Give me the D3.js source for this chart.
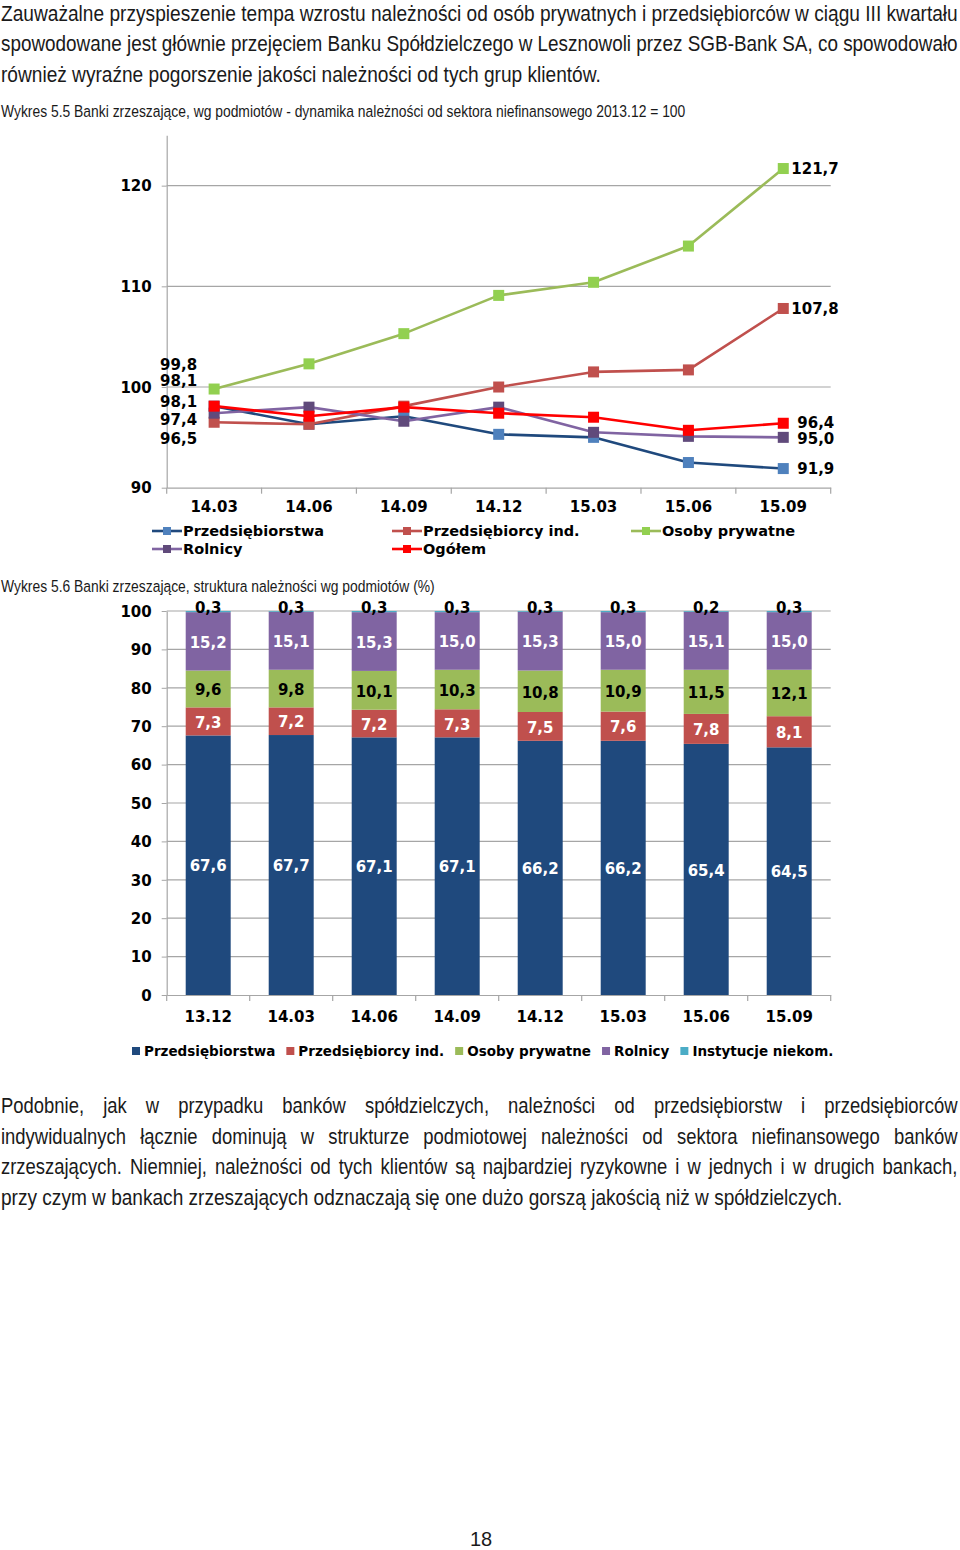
<!DOCTYPE html>
<html>
<head>
<meta charset="utf-8">
<script src="https://cdn.jsdelivr.net/npm/d3@7"></script>
<style>
  html, body { margin: 0; padding: 0; background: #fff; }
  svg { display: block; }
  .body-text { font-family: "Liberation Sans Narrow", "Arial Narrow", "Liberation Sans", Arial, sans-serif; fill: #1a1a1a; }
  .chart-text { font-family: "DejaVu Sans", Verdana, sans-serif; font-weight: bold; fill: #000; }
</style>
</head>
<body>
<svg id="page" width="960" height="1550"></svg>
<script>
// ---------------- DATA ----------------
const topParagraph = [
  "Zauważalne przyspieszenie tempa wzrostu należności od osób prywatnych i przedsiębiorców w ciągu III kwartału",
  "spowodowane jest głównie przejęciem Banku Spółdzielczego w Lesznowoli przez SGB-Bank SA, co spowodowało",
  "również wyraźne pogorszenie jakości należności od tych grup klientów."
];
const caption1 = "Wykres 5.5 Banki zrzeszające, wg podmiotów - dynamika należności od sektora niefinansowego 2013.12 = 100";
const caption2 = "Wykres 5.6 Banki zrzeszające, struktura należności wg podmiotów (%)";
const bottomParagraph = [
  "Podobnie, jak w przypadku banków spółdzielczych, należności od przedsiębiorstw i przedsiębiorców",
  "indywidualnych łącznie dominują w strukturze podmiotowej należności od sektora niefinansowego banków",
  "zrzeszających. Niemniej, należności od tych klientów są najbardziej ryzykowne i w jednych i w drugich bankach,",
  "przy czym w bankach zrzeszających odznaczają się one dużo gorszą jakością niż w spółdzielczych."
];
const pageNumber = "18";

// Chart 5.5 (lines)
const lineCategories = ["14.03", "14.06", "14.09", "14.12", "15.03", "15.06", "15.09"];
const lineTicks = [90, 100, 110, 120];
const przedsiebiorstwaIdx = [98.1, 96.3, 97.1, 95.3, 95.0, 92.5, 91.9];
const przedsiebiorcyIdx   = [96.5, 96.3, 98.1, 100.0, 101.5, 101.7, 107.8];
const osobyPrywatneIdx    = [99.8, 102.3, 105.3, 109.1, 110.4, 114.0, 121.7];
const rolnicyIdx          = [97.4, 98.0, 96.6, 98.0, 95.5, 95.1, 95.0];
const ogolemIdx           = [98.1, 97.1, 98.0, 97.4, 97.0, 95.7, 96.4];
const lineSeriesNames = ["Przedsiębiorstwa", "Przedsiębiorcy ind.", "Osoby prywatne", "Rolnicy", "Ogółem"];

// Chart 5.6 (stacked bars)
const barCategories = ["13.12", "14.03", "14.06", "14.09", "14.12", "15.03", "15.06", "15.09"];
const barTicks = [0, 10, 20, 30, 40, 50, 60, 70, 80, 90, 100];
const przedsiebiorstwaPct = [67.6, 67.7, 67.1, 67.1, 66.2, 66.2, 65.4, 64.5];
const przedsiebiorcyPct   = [7.3, 7.2, 7.2, 7.3, 7.5, 7.6, 7.8, 8.1];
const osobyPrywatnePct    = [9.6, 9.8, 10.1, 10.3, 10.8, 10.9, 11.5, 12.1];
const rolnicyPct          = [15.2, 15.1, 15.3, 15.0, 15.3, 15.0, 15.1, 15.0];
const instytucjePct       = [0.3, 0.3, 0.3, 0.3, 0.3, 0.3, 0.2, 0.3];
const barSeriesNames = ["Przedsiębiorstwa", "Przedsiębiorcy ind.", "Osoby prywatne", "Rolnicy", "Instytucje niekom."];

// ---------------- STYLES ----------------
const fmt = v => d3.format(".1f")(v).replace(".", ",");
const gridColor = "#a6a6a6";
const svg = d3.select("#page");

// ---------------- BODY TEXT ----------------
// Narrow look: horizontally condensed text; justified lines use word-spacing.
const condense = 0.82;
function textLine(str, x, y, size, width, justify) {
  const g = svg.append("g");
  const t = g.append("text").attr("class", "body-text")
    .attr("x", 0).attr("y", 0).style("font-size", size + "px").text(str);
  const w = t.node().getComputedTextLength();
  let sx = condense;
  if (justify) {
    const spaces = (str.match(/ /g) || []).length;
    const natural = w * condense;
    if (natural < width && spaces > 0) {
      t.style("word-spacing", ((width - natural) / condense / spaces) + "px");
    } else {
      sx = width / w;
    }
  } else {
    sx = width / w;
  }
  g.attr("transform", `translate(${x},${y}) scale(${sx},1)`);
  return t;
}
const topWidths = [957, 957, 600];
topParagraph.forEach((s, i) => textLine(s, 1, 20.5 + i * 30.6, 22, topWidths[i], false));
textLine(caption1, 1, 116.5, 16.5, 685, false);
textLine(caption2, 1, 592, 16.5, 434, false);
const botWidths = [957, 957, 957, 842];
bottomParagraph.forEach((s, i) => textLine(s, 1, 1113 + i * 30.7, 22.5, botWidths[i], i < 3));
svg.append("text").attr("class", "body-text").attr("x", 481).attr("y", 1546)
  .attr("text-anchor", "middle").style("font-size", "20px").text(pageNumber);

// ---------------- CHART 5.5 ----------------
(function () {
  const x0 = 166.7, x1 = 830.7, yBottom = 487.7;
  const x = d3.scaleBand().domain(lineCategories).range([x0, x1]).padding(0);
  const y = d3.scaleLinear().domain([90, 125]).range([yBottom, 135.3]);
  const g = svg.append("g");

  g.selectAll("line.grid").data(lineTicks.filter(t => t > 90)).join("line")
    .attr("x1", x0).attr("x2", x1).attr("y1", d => y(d)).attr("y2", d => y(d))
    .attr("stroke", gridColor).attr("stroke-width", 1.2);

  const ya = g.append("g").attr("transform", `translate(${x0},0)`)
    .call(d3.axisLeft(y).tickValues(lineTicks).tickSize(5).tickSizeOuter(0).tickPadding(10).tickFormat(d3.format("d")));
  ya.select(".domain").attr("stroke", gridColor).attr("stroke-width", 1.2);
  ya.selectAll(".tick line").attr("stroke", gridColor);
  ya.selectAll(".tick text").attr("class", "chart-text").style("font-size", "15px").attr("dy", "0.35em");

  const xa = g.append("g").attr("transform", `translate(0,${yBottom})`)
    .call(d3.axisBottom(x).tickSize(0).tickPadding(14));
  xa.select(".domain").attr("stroke", gridColor).attr("stroke-width", 1.2);
  xa.selectAll(".tick text").attr("class", "chart-text").style("font-size", "15px");
  const bounds = lineCategories.map(c => x(c)).concat([x1]);
  xa.selectAll("line.bt").data(bounds).join("line")
    .attr("x1", d => d).attr("x2", d => d).attr("y1", 0).attr("y2", 6)
    .attr("stroke", gridColor).attr("stroke-width", 1.2);

  const series = [
    { name: lineSeriesNames[0], values: przedsiebiorstwaIdx, line: "#1F497D", marker: "#4F81BD", leftDy: -25, rightDx: 14, rightDy: 0 },
    { name: lineSeriesNames[1], values: przedsiebiorcyIdx,   line: "#C0504D", marker: "#C0504D", leftDy: 16,  rightDx: 8,  rightDy: 0 },
    { name: lineSeriesNames[2], values: osobyPrywatneIdx,    line: "#9BBB59", marker: "#92D050", leftDy: -24, rightDx: 8,  rightDy: 0 },
    { name: lineSeriesNames[3], values: rolnicyIdx,          line: "#8064A2", marker: "#604A7B", leftDy: 7,   rightDx: 14, rightDy: 1 },
    { name: lineSeriesNames[4], values: ogolemIdx,           line: "#FF0000", marker: "#FF0000", leftDy: -4,  rightDx: 14, rightDy: -1 }
  ];
  const cx = i => x(lineCategories[i]) + x.bandwidth() / 2;
  const lineGen = d3.line().x((d, i) => cx(i)).y(d => y(d));
  const ms = 11;

  series.forEach(s => {
    const sg = g.append("g");
    sg.append("path").attr("d", lineGen(s.values)).attr("fill", "none")
      .attr("stroke", s.line).attr("stroke-width", 2.6).attr("stroke-linejoin", "round");
    sg.selectAll("rect").data(s.values).join("rect")
      .attr("x", (d, i) => cx(i) - ms / 2).attr("y", d => y(d) - ms / 2)
      .attr("width", ms).attr("height", ms).attr("fill", s.marker);
  });

  series.forEach(s => {
    const n = s.values.length - 1;
    g.append("text").attr("class", "chart-text").style("font-size", "15px")
      .attr("x", cx(0) - 17).attr("y", y(s.values[0]) + s.leftDy).attr("dy", "0.35em")
      .attr("text-anchor", "end").text(fmt(s.values[0]));
    g.append("text").attr("class", "chart-text").style("font-size", "15px")
      .attr("x", cx(n) + s.rightDx).attr("y", y(s.values[n]) + s.rightDy).attr("dy", "0.35em")
      .attr("text-anchor", "start").text(fmt(s.values[n]));
  });

  const legendPos = [[152, 531], [392, 531], [631, 531], [152, 549], [392, 549]];
  series.forEach((s, i) => {
    const [lx, ly] = legendPos[i];
    const lg = g.append("g").attr("transform", `translate(${lx},${ly})`);
    lg.append("line").attr("x1", 0).attr("x2", 30).attr("y1", 0).attr("y2", 0)
      .attr("stroke", s.line).attr("stroke-width", 2.6);
    lg.append("rect").attr("x", 11).attr("y", -4).attr("width", 8).attr("height", 8).attr("fill", s.marker);
    lg.append("text").attr("class", "chart-text").style("font-size", "14.5px")
      .attr("x", 31).attr("y", 0).attr("dy", "0.35em").text(s.name);
  });
})();

// ---------------- CHART 5.6 ----------------
(function () {
  const x0 = 166.7, x1 = 830.7, yBottom = 995, yTop = 611;
  const x = d3.scaleBand().domain(barCategories).range([x0, x1]).paddingInner(0.458).paddingOuter(0.229);
  const y = d3.scaleLinear().domain([0, 100]).range([yBottom, yTop]);
  const g = svg.append("g");

  g.selectAll("line.grid").data(barTicks.filter(t => t > 0)).join("line")
    .attr("x1", x0).attr("x2", x1).attr("y1", d => y(d)).attr("y2", d => y(d))
    .attr("stroke", gridColor).attr("stroke-width", 1.2);

  const ya = g.append("g").attr("transform", `translate(${x0},0)`)
    .call(d3.axisLeft(y).tickValues(barTicks).tickSize(5).tickSizeOuter(0).tickPadding(10).tickFormat(d3.format("d")));
  ya.select(".domain").attr("stroke", gridColor).attr("stroke-width", 1.2);
  ya.selectAll(".tick line").attr("stroke", gridColor);
  ya.selectAll(".tick text").attr("class", "chart-text").style("font-size", "15px").attr("dy", "0.35em");

  const series = [
    { name: barSeriesNames[0], values: przedsiebiorstwaPct, color: "#1F497D", label: "#fff" },
    { name: barSeriesNames[1], values: przedsiebiorcyPct,   color: "#C0504D", label: "#fff" },
    { name: barSeriesNames[2], values: osobyPrywatnePct,    color: "#9BBB59", label: "#000" },
    { name: barSeriesNames[3], values: rolnicyPct,          color: "#8064A2", label: "#fff" },
    { name: barSeriesNames[4], values: instytucjePct,       color: "#4BACC6", label: "#000" }
  ];
  const rows = barCategories.map((c, i) => {
    const r = { cat: c };
    series.forEach(s => r[s.name] = s.values[i]);
    return r;
  });
  const stacked = d3.stack().keys(barSeriesNames)(rows);
  const clampY = v => y(Math.min(v, 100));

  stacked.forEach((layer, li) => {
    const s = series[li];
    g.append("g").selectAll("rect").data(layer).join("rect")
      .attr("x", d => x(d.data.cat)).attr("width", x.bandwidth())
      .attr("y", d => clampY(d[1])).attr("height", d => Math.max(0, clampY(d[0]) - clampY(d[1])))
      .attr("fill", s.color);
  });

  const xa = g.append("g").attr("transform", `translate(0,${yBottom})`)
    .call(d3.axisBottom(x).tickSize(0).tickPadding(16));
  xa.select(".domain").attr("stroke", gridColor).attr("stroke-width", 1.2);
  xa.selectAll(".tick text").attr("class", "chart-text").style("font-size", "15px");
  const step = x.step();
  const bounds = d3.range(barCategories.length + 1).map(i => x0 + i * step);
  xa.selectAll("line.bt").data(bounds).join("line")
    .attr("x1", d => d).attr("x2", d => d).attr("y1", 0).attr("y2", 6)
    .attr("stroke", gridColor).attr("stroke-width", 1.2);

  stacked.forEach((layer, li) => {
    const s = series[li];
    const last = li === stacked.length - 1;
    g.append("g").selectAll("text").data(layer).join("text")
      .attr("class", "chart-text").style("font-size", "15px").style("fill", s.label)
      .attr("text-anchor", "middle")
      .attr("x", d => x(d.data.cat) + x.bandwidth() / 2)
      .attr("y", d => last ? clampY(d[1]) - 3 : (clampY(d[0]) + clampY(d[1])) / 2 + 1)
      .attr("dy", "0.35em")
      .text(d => fmt(d[1] - d[0]));
  });

  const lg = g.append("g").attr("transform", `translate(0,1051)`);
  let lx = 132;
  series.forEach(s => {
    const item = lg.append("g").attr("transform", `translate(${lx},0)`);
    item.append("rect").attr("x", 0).attr("y", -4).attr("width", 8).attr("height", 8).attr("fill", s.color);
    const t = item.append("text").attr("class", "chart-text").style("font-size", "13.5px")
      .attr("x", 12).attr("y", 0).attr("dy", "0.35em").text(s.name);
    lx += 12 + t.node().getComputedTextLength() + 11;
  });
})();
</script>
</body>
</html>
